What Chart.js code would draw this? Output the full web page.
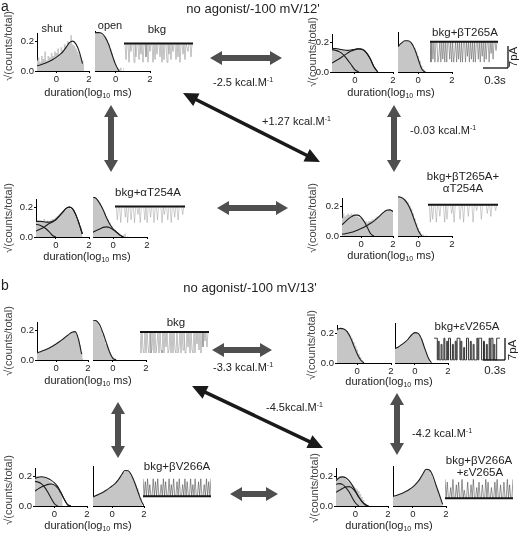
<!DOCTYPE html>
<html>
<head>
<meta charset="utf-8">
<script src="https://cdn.jsdelivr.net/npm/chart.js@4.4.1/dist/chart.umd.min.js"></script>
<style>
body { margin: 0; background: #fff; }
#fig { position: relative; width: 520px; height: 533px; overflow: hidden; font-family: "Liberation Sans", Arial, sans-serif; color: #222; }
.t { position: absolute; white-space: nowrap; line-height: 1; transform: translate(-50%, -50%); }
.l { position: absolute; white-space: nowrap; line-height: 1; transform: translateY(-50%); }
.r { position: absolute; white-space: nowrap; line-height: 1; transform: translate(-50%, -50%) rotate(-90deg); }
.sb { font-size: 7px; vertical-align: -2px; }
.sp { font-size: 7px; vertical-align: 4px; }
svg { position: absolute; left: 0; top: 0; }
</style>
</head>
<body>
<div id="fig"></div>
<script>
// histogram bins and fit sample points (log10 ms)
const bins = [-1.2,-1.1,-1.0,-0.9,-0.8,-0.7,-0.6,-0.5,-0.4,-0.3,-0.2,-0.1,0,0.1,0.2,0.3,0.4,0.5,0.6,0.7,0.8,0.9,1.0,1.1,1.2,1.3,1.4,1.5,1.6,1.7,1.8,1.9,2.0];
const fitX = [-1.2,-1.0,-0.8,-0.6,-0.4,-0.2,0,0.2,0.4,0.6,0.8,1.0,1.2,1.4,1.6,1.8,2.0];
const xTicks = [0, 2];
const yTicks = [0, 0.2];

// a: no agonist/-100 mV/12'
const a1ShutBars = [0.07,0.09,0.06,0.10,0.08,0.13,0.07,0.10,0.09,0.12,0.10,0.13,0.12,0.15,0.11,0.16,0.14,0.18,0.17,0.20,0.19,0.24,0.18,0.17,0.15,0.13,0.11,0.09,0.07,0.05];
const a1ShutFit = [0.035,0.04,0.048,0.057,0.067,0.079,0.093,0.11,0.13,0.16,0.19,0.2,0.18,0.13,0.05];
const a1OpenBars = [0.24,0.24,0.24,0.23,0.23,0.22,0.21,0.19,0.17,0.14,0.11,0.07,0.04,0.02,0.01,0.02,0,0.02];
const a1OpenFit = [0.24,0.24,0.235,0.21,0.165,0.1,0.04,0];

const a2ShutBars = [0.16,0.16,0.16,0.155,0.155,0.15,0.15,0.145,0.145,0.145,0.145,0.15,0.15,0.155,0.155,0.155,0.15,0.145,0.13,0.11,0.09,0.065,0.035,0.015];
const a2ShutFitSum = [0.158,0.157,0.153,0.148,0.145,0.147,0.152,0.156,0.152,0.13,0.09,0.035,0];
const a2ShutFitFast = [0.15,0.145,0.135,0.115,0.085,0.05,0.015,0];
const a2ShutFitSlow = [0.06,0.075,0.09,0.108,0.125,0.14,0.15,0.155,0.15,0.13,0.09,0.035,0];
const a2OpenBars = [0.16,0.17,0.18,0.19,0.195,0.195,0.195,0.19,0.18,0.165,0.15,0.13,0.1,0.07,0.04,0.02,0.01,0.005];
const a2OpenFit = [0.16,0.18,0.195,0.195,0.18,0.14,0.08,0.02,0];

const a3ShutBars = [0.1,0.11,0.1,0.11,0.1,0.12,0.1,0.11,0.1,0.11,0.12,0.12,0.13,0.14,0.15,0.16,0.17,0.18,0.19,0.19,0.2,0.19,0.18,0.17,0.15,0.12,0.1,0.07,0.04];
const a3ShutFitSum = [0.105,0.105,0.103,0.1,0.1,0.105,0.12,0.14,0.165,0.19,0.2,0.19,0.15,0.09,0.02];
const a3ShutFitFast = [0.085,0.08,0.07,0.055,0.035,0.01,0];
const a3ShutFitSlow = [0.04,0.05,0.06,0.075,0.09,0.1,0.115,0.14,0.165,0.19,0.2,0.19,0.15,0.09,0.02];
const a3OpenBars = [0.25,0.25,0.24,0.23,0.21,0.19,0.17,0.15,0.13,0.11,0.09,0.07,0.05,0.04,0.03,0.02,0.02,0.01,0.01,0.02,0,0.01];
const a3OpenFitSum = [0.25,0.24,0.21,0.17,0.12,0.08,0.05,0.03,0.012,0];
const a3OpenFitSlow = [0.03,0.04,0.05,0.06,0.063,0.058,0.045,0.03,0.012,0];

const a4ShutBars = [0.12,0.15,0.13,0.14,0.15,0.14,0.15,0.14,0.14,0.13,0.13,0.12,0.12,0.11,0.1,0.1,0.09,0.1,0.1,0.11,0.11,0.12,0.13,0.13,0.14,0.15,0.16,0.17,0.17,0.18,0.18,0.17,0.17];
const a4ShutFitFast = [0.075,0.095,0.115,0.13,0.14,0.14,0.125,0.095,0.055,0.015,0];
const a4ShutFitSlow = [0.012,0.015,0.02,0.025,0.032,0.04,0.05,0.06,0.072,0.085,0.1,0.118,0.138,0.158,0.172,0.175,0.165];
const a4OpenBars = [0.25,0.25,0.24,0.24,0.23,0.22,0.21,0.19,0.17,0.14,0.11,0.08,0.05,0.03,0.01,0.01,0,0.01];
const a4OpenFit = [0.245,0.24,0.225,0.195,0.15,0.09,0.035,0];

// b: no agonist/-100 mV/13'
const b1ShutBars = [0.05,0.05,0.055,0.06,0.065,0.07,0.075,0.08,0.085,0.09,0.095,0.1,0.105,0.115,0.12,0.13,0.14,0.145,0.155,0.16,0.17,0.18,0.185,0.19,0.19,0.17,0.14,0.1,0.05,0.01];
const b1ShutFit = [0.047,0.055,0.063,0.072,0.082,0.094,0.107,0.122,0.138,0.155,0.172,0.186,0.19,0.14,0.04];
const b1OpenBars = [0.25,0.25,0.24,0.23,0.21,0.19,0.16,0.13,0.1,0.08,0.05,0.03,0.02,0.01,0.01];
const b1OpenFit = [0.25,0.245,0.22,0.17,0.11,0.05,0.01,0];

const b2ShutBars = [0.22,0.225,0.23,0.23,0.23,0.225,0.215,0.2,0.185,0.165,0.14,0.115,0.09,0.06,0.04,0.02,0.01];
const b2ShutFit = [0.225,0.232,0.228,0.21,0.17,0.115,0.06,0.02,0];
const b2OpenBars = [0.09,0.095,0.1,0.105,0.115,0.12,0.13,0.14,0.15,0.16,0.175,0.185,0.19,0.19,0.185,0.175,0.15,0.125,0.09,0.065,0.035,0.015];
const b2OpenFit = [0.09,0.1,0.115,0.13,0.15,0.175,0.19,0.185,0.15,0.09,0.035,0];

const b3ShutBars = [0.19,0.2,0.2,0.2,0.2,0.195,0.19,0.185,0.18,0.17,0.16,0.15,0.14,0.13,0.11,0.1,0.08,0.06];
const b3ShutFitSum = [0.185,0.193,0.196,0.193,0.185,0.172,0.155,0.13,0.09,0.045,0.01,0];
const b3ShutFitFast = [0.165,0.16,0.148,0.125,0.09,0.05,0.015,0];
const b3ShutFitSlow = [0.1,0.115,0.128,0.138,0.145,0.147,0.14,0.12,0.085,0.045,0.01,0];
const b3OpenBars = [0.06,0.06,0.065,0.07,0.075,0.08,0.085,0.09,0.095,0.1,0.105,0.11,0.12,0.13,0.14,0.15,0.16,0.175,0.19,0.205,0.215,0.22,0.215,0.205,0.19,0.175,0.155,0.13,0.11,0.08,0.05,0.02];
const b3OpenFit = [0.057,0.065,0.075,0.085,0.097,0.11,0.125,0.142,0.165,0.195,0.222,0.22,0.195,0.15,0.095,0.04,0];

const b4ShutBars = [0.18,0.19,0.2,0.2,0.2,0.195,0.185,0.17,0.16,0.15,0.14,0.13,0.12,0.11,0.1,0.08,0.06,0.04,0.02,0.01];
const b4ShutFitSum = [0.17,0.19,0.195,0.19,0.17,0.14,0.1,0.06,0.03,0.01,0];
const b4ShutFitFast = [0.146,0.15,0.145,0.125,0.095,0.055,0.02,0];
const b4ShutFitSlow = [0.092,0.105,0.118,0.127,0.13,0.12,0.095,0.06,0.03,0.008,0];
const b4OpenBars = [0.06,0.06,0.065,0.07,0.07,0.075,0.08,0.085,0.09,0.1,0.1,0.11,0.12,0.13,0.14,0.15,0.165,0.18,0.2,0.215,0.23,0.23,0.22,0.2,0.18,0.155,0.13,0.1,0.07,0.04,0.015];
const b4OpenFit = [0.06,0.066,0.073,0.082,0.092,0.105,0.12,0.14,0.165,0.2,0.23,0.225,0.19,0.13,0.07,0.01];

// single channel current traces (pA, closed = 0)
const closedLevel = 0;
const traceA1 = [0,0,-6,0,0,-7,0,-3,0,0,-7,0,-5,0,0,-6,0,-4,0,-7,0,0,-5,0,-7,0,-3,0,0,-7,0,-6,0,-4,0,0,-5,0,-7,0,-6,0,0,-7,0,-4,0,-6,0,-3,0,0,-6,0,-5,0,-7,0,0,-4,0,-6,0,0,-3,0,0,-5,0,0];
const traceA2 = [0,-7,0,-6,0,-7,0,0,-7,-5,0,-7,0,-6,0,-7,0,-7,0,0,-6,0,-7,0,-7,-4,0,-7,0,-6,0,-7,0,-7,0,0,-7,0,-5,0,-7,0,-6,0,-7,0,-7,0,0,-6,0,-7,0,-5,0,-7,0,-6,0,0,-7,0,-4,0,-6,0,0,-3,0,0];
const traceA3 = [0,0,-5,0,0,-6,0,0,0,-4,0,-6,0,0,-5,0,0,-6,0,0,-3,0,-6,0,0,0,-5,0,-6,0,0,-4,0,0,-6,0,0,-5,0,0,0,-6,0,-3,0,0,-5,0,0,-6,0,0,-4,0,0,-5,0,0,0,-3,0,0];
const traceA4 = [0,0,-6,0,-5,0,0,-6,0,0,-4,0,0,0,-6,0,-5,0,0,0,-3,0,-6,0,0,0,0,-5,0,0,-6,0,0,0,-4,0,0,0,-6,0,0,-2,0,0,0,-5,0,0,0,0,-3,0,0,-4,0,0,0,-2,0,0];
const traceB1 = [0,-7,0,-6,-7,0,-7,0,-5,-7,0,-7,-6,0,-7,0,-7,-4,0,-7,0,-6,-7,0,-7,0,-5,0,-7,-6,0,-7,0,-7,0,-6,-7,0,-7,-5,0,-7,0,-6,0,-7,-7,0,-5,0,-7,0,-6,-7,0,-7,0,-4,0,-6,0,-7,0,-5,0,-3,0,-5,0,0];
const traceB2 = [0,0,0,0,-7,-1,-7,-7,-2,-7,-7,0,-7,-7,-1,-7,0,0,-7,-7,-2,-7,-7,-1,-7,0,0,0,-7,-1,-7,-7,-3,-7,-7,0,0,-7,-7,-1,-7,-7,-2,-7,-7,-7,0,-7,0,0,0,-7,-7,-1,-7,-7,-2,-7,-7,0,-7,0,0,-7,-2,-7,-7,0,0,0,0];
const traceB3 = [0,-6,-1,-6,0,-6,-2,-6,-6,0,-6,-1,-6,0,-6,-6,-2,-6,0,-6,-1,-6,-6,0,-6,-2,-6,0,-6,-6,-1,-6,0,-6,-6,-2,-6,0,-6,-1,-6,-6,0,-6,-2,-6,0,-6,-6,-1,-6,0,-6,-6,-2,-6,0,-6,-1,-6,0];
const openLevelB3 = -6;
const traceB4 = [0,-7,-1,-7,-7,-3,-7,0,-7,-7,-2,-7,-1,-7,-7,0,-7,-4,-7,-7,-1,-7,-7,-2,-7,0,-7,-7,-3,-7,-1,-7,-7,-2,-7,-7,0,-7,-1,-7,-7,-3,-7,-7,-1,-7,0,-7,-7,-2,-7,-7,-1,-7,-7,0,-7,-2,-7,-7,0];
const openLevelB4 = -7;

const FONT = '"Liberation Sans", Arial, sans-serif';
const PLOT_H = 40;
const fig = document.getElementById('fig');

function makeCanvas(left, top, w, h) {
  const c = document.createElement('canvas');
  c.width = Math.round(w);
  c.height = Math.round(h);
  c.style.cssText = 'position:absolute;left:' + Math.round(left) + 'px;top:' + Math.round(top) + 'px;';
  fig.appendChild(c);
  return c.getContext('2d');
}

function histogram(h) {
  var padL = h.yTicks ? 22 : 1, padT = 4, padR = 6, padB = 15;
  var ctx = makeCanvas(h.left - padL, h.bottom - PLOT_H - padT, padL + h.w + padR, padT + PLOT_H + padB);
  var datasets = [{
    data: h.bars.map((v, i) => ({ x: bins[i], y: v })),
    stepped: 'middle', fill: 'origin', backgroundColor: '#c6c6c6',
    borderWidth: 0, pointRadius: 0, order: 5
  }];
  h.fits.forEach(f => datasets.push({
    data: f.map((v, i) => ({ x: fitX[i], y: v })),
    borderColor: '#1c1c1c', borderWidth: 1.1, pointRadius: 0, fill: false,
    cubicInterpolationMode: 'monotone', order: 1
  }));
  var tickGrid = { drawOnChartArea: false, drawTicks: true, tickLength: 2, color: '#000' };
  new Chart(ctx, {
    type: 'line',
    data: { datasets: datasets },
    options: {
      responsive: false, animation: false, events: [],
      layout: { padding: { top: padT, right: padR, left: 0, bottom: 0 } },
      plugins: { legend: { display: false }, tooltip: { enabled: false } },
      scales: {
        x: {
          type: 'linear', min: -1.2, max: 2,
          grid: tickGrid, border: { color: '#000', width: 1 },
          ticks: { color: '#222', font: { family: FONT, size: 9.5 }, padding: 1, maxRotation: 0 },
          afterBuildTicks: s => { s.ticks = xTicks.map(v => ({ value: v })); },
          afterFit: s => { s.height = padB; }
        },
        y: {
          min: 0, max: 0.25,
          grid: h.yTicks ? tickGrid : { display: false }, border: { color: '#000', width: 1 },
          ticks: { display: h.yTicks, color: '#222', font: { family: FONT, size: 9.5 }, padding: 1, callback: v => v.toFixed(1) },
          afterBuildTicks: s => { s.ticks = yTicks.map(v => ({ value: v })); },
          afterFit: s => { s.width = padL; }
        }
      }
    }
  });
}

function trace(t) {
  var ppu = (t.yLow - t.y0) / 7;
  var ctx = makeCanvas(t.left, t.y0 - 2 * ppu, t.right - t.left, 10 * ppu);
  var n = t.data.length - 1;
  var datasets = [{
    data: t.data.map((v, i) => ({ x: i, y: v })),
    borderColor: t.color, borderWidth: t.lw, pointRadius: 0, stepped: t.stepped || false, tension: 0, order: 2
  }];
  if (t.level !== undefined) {
    datasets.push({
      data: [{ x: 0, y: t.level }, { x: n, y: t.level }],
      borderColor: '#151515', borderWidth: 2, pointRadius: 0, order: 1
    });
  }
  new Chart(ctx, {
    type: 'line',
    data: { datasets: datasets },
    options: {
      responsive: false, animation: false, events: [],
      layout: { padding: 0 },
      plugins: { legend: { display: false }, tooltip: { enabled: false } },
      scales: {
        x: { type: 'linear', display: false, min: 0, max: n },
        y: { display: false, min: -8, max: 2 }
      }
    }
  });
}

[
  { left: 37, w: 52, bottom: 71, yTicks: true, bars: a1ShutBars, fits: [a1ShutFit] },
  { left: 95, w: 55, bottom: 71, yTicks: false, bars: a1OpenBars, fits: [a1OpenFit] },
  { left: 332, w: 61, bottom: 72, yTicks: true, bars: a2ShutBars, fits: [a2ShutFitSum, a2ShutFitFast, a2ShutFitSlow] },
  { left: 398, w: 54, bottom: 72, yTicks: false, bars: a2OpenBars, fits: [a2OpenFit] },
  { left: 36, w: 53, bottom: 237, yTicks: true, bars: a3ShutBars, fits: [a3ShutFitSum, a3ShutFitFast, a3ShutFitSlow] },
  { left: 93, w: 54, bottom: 237, yTicks: false, bars: a3OpenBars, fits: [a3OpenFitSum, a3OpenFitSlow] },
  { left: 342, w: 51, bottom: 236, yTicks: true, bars: a4ShutBars, fits: [a4ShutFitFast, a4ShutFitSlow] },
  { left: 398, w: 54, bottom: 236, yTicks: false, bars: a4OpenBars, fits: [a4OpenFit] },
  { left: 37, w: 51, bottom: 360, yTicks: true, bars: b1ShutBars, fits: [b1ShutFit] },
  { left: 93, w: 53, bottom: 360, yTicks: false, bars: b1OpenBars, fits: [b1OpenFit] },
  { left: 337, w: 54, bottom: 363, yTicks: true, bars: b2ShutBars, fits: [b2ShutFit] },
  { left: 395, w: 53, bottom: 363, yTicks: false, bars: b2OpenBars, fits: [b2OpenFit] },
  { left: 35, w: 52, bottom: 506, yTicks: true, bars: b3ShutBars, fits: [b3ShutFitSum, b3ShutFitFast, b3ShutFitSlow] },
  { left: 93, w: 51, bottom: 506, yTicks: false, bars: b3OpenBars, fits: [b3OpenFit] },
  { left: 336, w: 52, bottom: 506, yTicks: true, bars: b4ShutBars, fits: [b4ShutFitSum, b4ShutFitFast, b4ShutFitSlow] },
  { left: 393, w: 53, bottom: 506, yTicks: false, bars: b4OpenBars, fits: [b4OpenFit] }
].forEach(histogram);

var grayTrace = 'rgba(110,110,110,0.6)';
[
  { left: 124, right: 193, y0: 43, yLow: 62, data: traceA1, color: grayTrace, lw: 0.7, level: closedLevel },
  { left: 430, right: 498, y0: 42, yLow: 62, data: traceA2, color: 'rgba(80,80,80,0.7)', lw: 0.7, level: closedLevel },
  { left: 115, right: 185, y0: 206, yLow: 225, data: traceA3, color: 'rgba(130,130,130,0.55)', lw: 0.7, level: closedLevel },
  { left: 428, right: 498, y0: 205, yLow: 225, data: traceA4, color: 'rgba(130,130,130,0.55)', lw: 0.7, level: closedLevel },
  { left: 140, right: 209, y0: 332, yLow: 353, data: traceB1, color: grayTrace, lw: 0.7, level: closedLevel },
  { left: 434, right: 500, y0: 338, yLow: 360, data: traceB2, color: '#1a1a1a', lw: 0.9, stepped: 'middle' },
  { left: 143, right: 211, y0: 479, yLow: 499, data: traceB3, color: 'rgba(70,70,70,0.8)', lw: 0.7, level: openLevelB3 },
  { left: 445, right: 513, y0: 479, yLow: 498, data: traceB4, color: 'rgba(70,70,70,0.8)', lw: 0.7, level: openLevelB4 }
].forEach(trace);

// arrows and scale bars
var svgNS = 'http://www.w3.org/2000/svg';
var svg = document.createElementNS(svgNS, 'svg');
svg.setAttribute('width', 520);
svg.setAttribute('height', 533);
fig.appendChild(svg);

function arrow(x1, y1, x2, y2, w, hw, hl, color) {
  var dx = x2 - x1, dy = y2 - y1, len = Math.hypot(dx, dy);
  var ux = dx / len, uy = dy / len, nx = -uy, ny = ux;
  var b1x = x1 + ux * hl, b1y = y1 + uy * hl, b2x = x2 - ux * hl, b2y = y2 - uy * hl;
  var p = [
    [x1, y1], [b1x + nx * hw / 2, b1y + ny * hw / 2], [b1x + nx * w / 2, b1y + ny * w / 2],
    [b2x + nx * w / 2, b2y + ny * w / 2], [b2x + nx * hw / 2, b2y + ny * hw / 2], [x2, y2],
    [b2x - nx * hw / 2, b2y - ny * hw / 2], [b2x - nx * w / 2, b2y - ny * w / 2],
    [b1x - nx * w / 2, b1y - ny * w / 2], [b1x - nx * hw / 2, b1y - ny * hw / 2]
  ];
  var poly = document.createElementNS(svgNS, 'polygon');
  poly.setAttribute('points', p.map(q => q[0].toFixed(1) + ',' + q[1].toFixed(1)).join(' '));
  poly.setAttribute('fill', color);
  svg.appendChild(poly);
}

function line(x1, y1, x2, y2) {
  var l = document.createElementNS(svgNS, 'line');
  l.setAttribute('x1', x1); l.setAttribute('y1', y1);
  l.setAttribute('x2', x2); l.setAttribute('y2', y2);
  l.setAttribute('stroke', '#111'); l.setAttribute('stroke-width', 1.3);
  svg.appendChild(l);
}

var GRAY = '#4f4f4f', BLACK = '#1a1a1a';
arrow(210, 58, 282, 58, 6, 14, 12, GRAY);
arrow(217, 208, 288, 208, 6, 14, 12, GRAY);
arrow(111, 105, 111, 172, 6, 14, 12, GRAY);
arrow(394, 105, 394, 172, 6, 14, 12, GRAY);
arrow(183, 93, 320, 162, 3.5, 14, 15, BLACK);
arrow(212, 350, 272, 350, 6, 14, 12, GRAY);
arrow(230, 494, 278, 494, 6, 14, 12, GRAY);
arrow(118, 402, 118, 458, 6, 14, 12, GRAY);
arrow(397, 393, 397, 455, 6, 14, 12, GRAY);
arrow(192, 386, 323, 448, 3.5, 14, 15, BLACK);

line(508, 46, 508, 68); line(483, 68, 508, 68);
line(505, 338, 505, 360); line(483, 360, 505, 360);

// text
var kcal = ' kcal.M<span class="sp">-1</span>';
var dur = 'duration(log<span class="sb">10</span> ms)';
var yLab = '\u221A(counts/total)';
var texts = [
  ['l', 1, 6, 14, 'a'], ['l', 1, 285, 14, 'b'],
  ['t', 253, 8, 13, "no agonist/-100 mV/12'"], ['t', 250, 287, 13, "no agonist/-100 mV/13'"],
  ['t', 52, 28, 11, 'shut'], ['t', 110, 25, 11, 'open'],
  ['t', 157, 30, 11.5, 'bkg'], ['t', 465, 33, 11.5, 'bkg+\u03B2T265A'],
  ['t', 148, 193, 11.5, 'bkg+\u03B1T254A'],
  ['t', 463, 177, 11.5, 'bkg+\u03B2T265A+'], ['t', 463, 189, 11.5, '\u03B1T254A'],
  ['t', 176, 323, 11.5, 'bkg'], ['t', 467, 327, 11.5, 'bkg+\u03B5V265A'],
  ['t', 177, 467, 11.5, 'bkg+\u03B2V266A'],
  ['t', 479, 461, 11.5, 'bkg+\u03B2V266A'], ['t', 480, 473, 11.5, '+\u03B5V265A'],
  ['l', 213, 82, 11, '-2.5' + kcal], ['l', 262, 121, 11, '+1.27' + kcal], ['l', 410, 130, 11, '-0.03' + kcal],
  ['l', 213, 367, 11, '-3.3' + kcal], ['l', 266, 407, 11, '-4.5kcal.M<span class="sp">-1</span>'], ['l', 412, 433, 11, '-4.2' + kcal],
  ['t', 88, 93, 11, dur], ['t', 391, 93, 11, dur], ['t', 87, 257, 11, dur], ['t', 391, 256, 11, dur],
  ['t', 88, 381, 11, dur], ['t', 389, 382, 11, dur], ['t', 88, 526, 11, dur], ['t', 389, 526, 11, dur],
  ['r', 8, 46, 11, yLab], ['r', 312, 52, 11, yLab], ['r', 8, 218, 11, yLab], ['r', 312, 218, 11, yLab],
  ['r', 8, 341, 11, yLab], ['r', 311, 345, 11, yLab], ['r', 8, 490, 11, yLab], ['r', 314, 488, 11, yLab],
  ['r', 514, 57, 11.5, '7pA'], ['t', 495, 81, 11.5, '0.3s'],
  ['r', 513, 350, 11.5, '7pA'], ['t', 495, 371, 11.5, '0.3s']
];
texts.forEach(t => {
  var d = document.createElement('div');
  d.className = t[0];
  d.style.left = t[1] + 'px';
  d.style.top = t[2] + 'px';
  d.style.fontSize = t[3] + 'px';
  if (t[0] === 'r' && t[4] === yLab) d.style.color = '#444';
  d.innerHTML = t[4];
  fig.appendChild(d);
});
</script>
</body>
</html>
